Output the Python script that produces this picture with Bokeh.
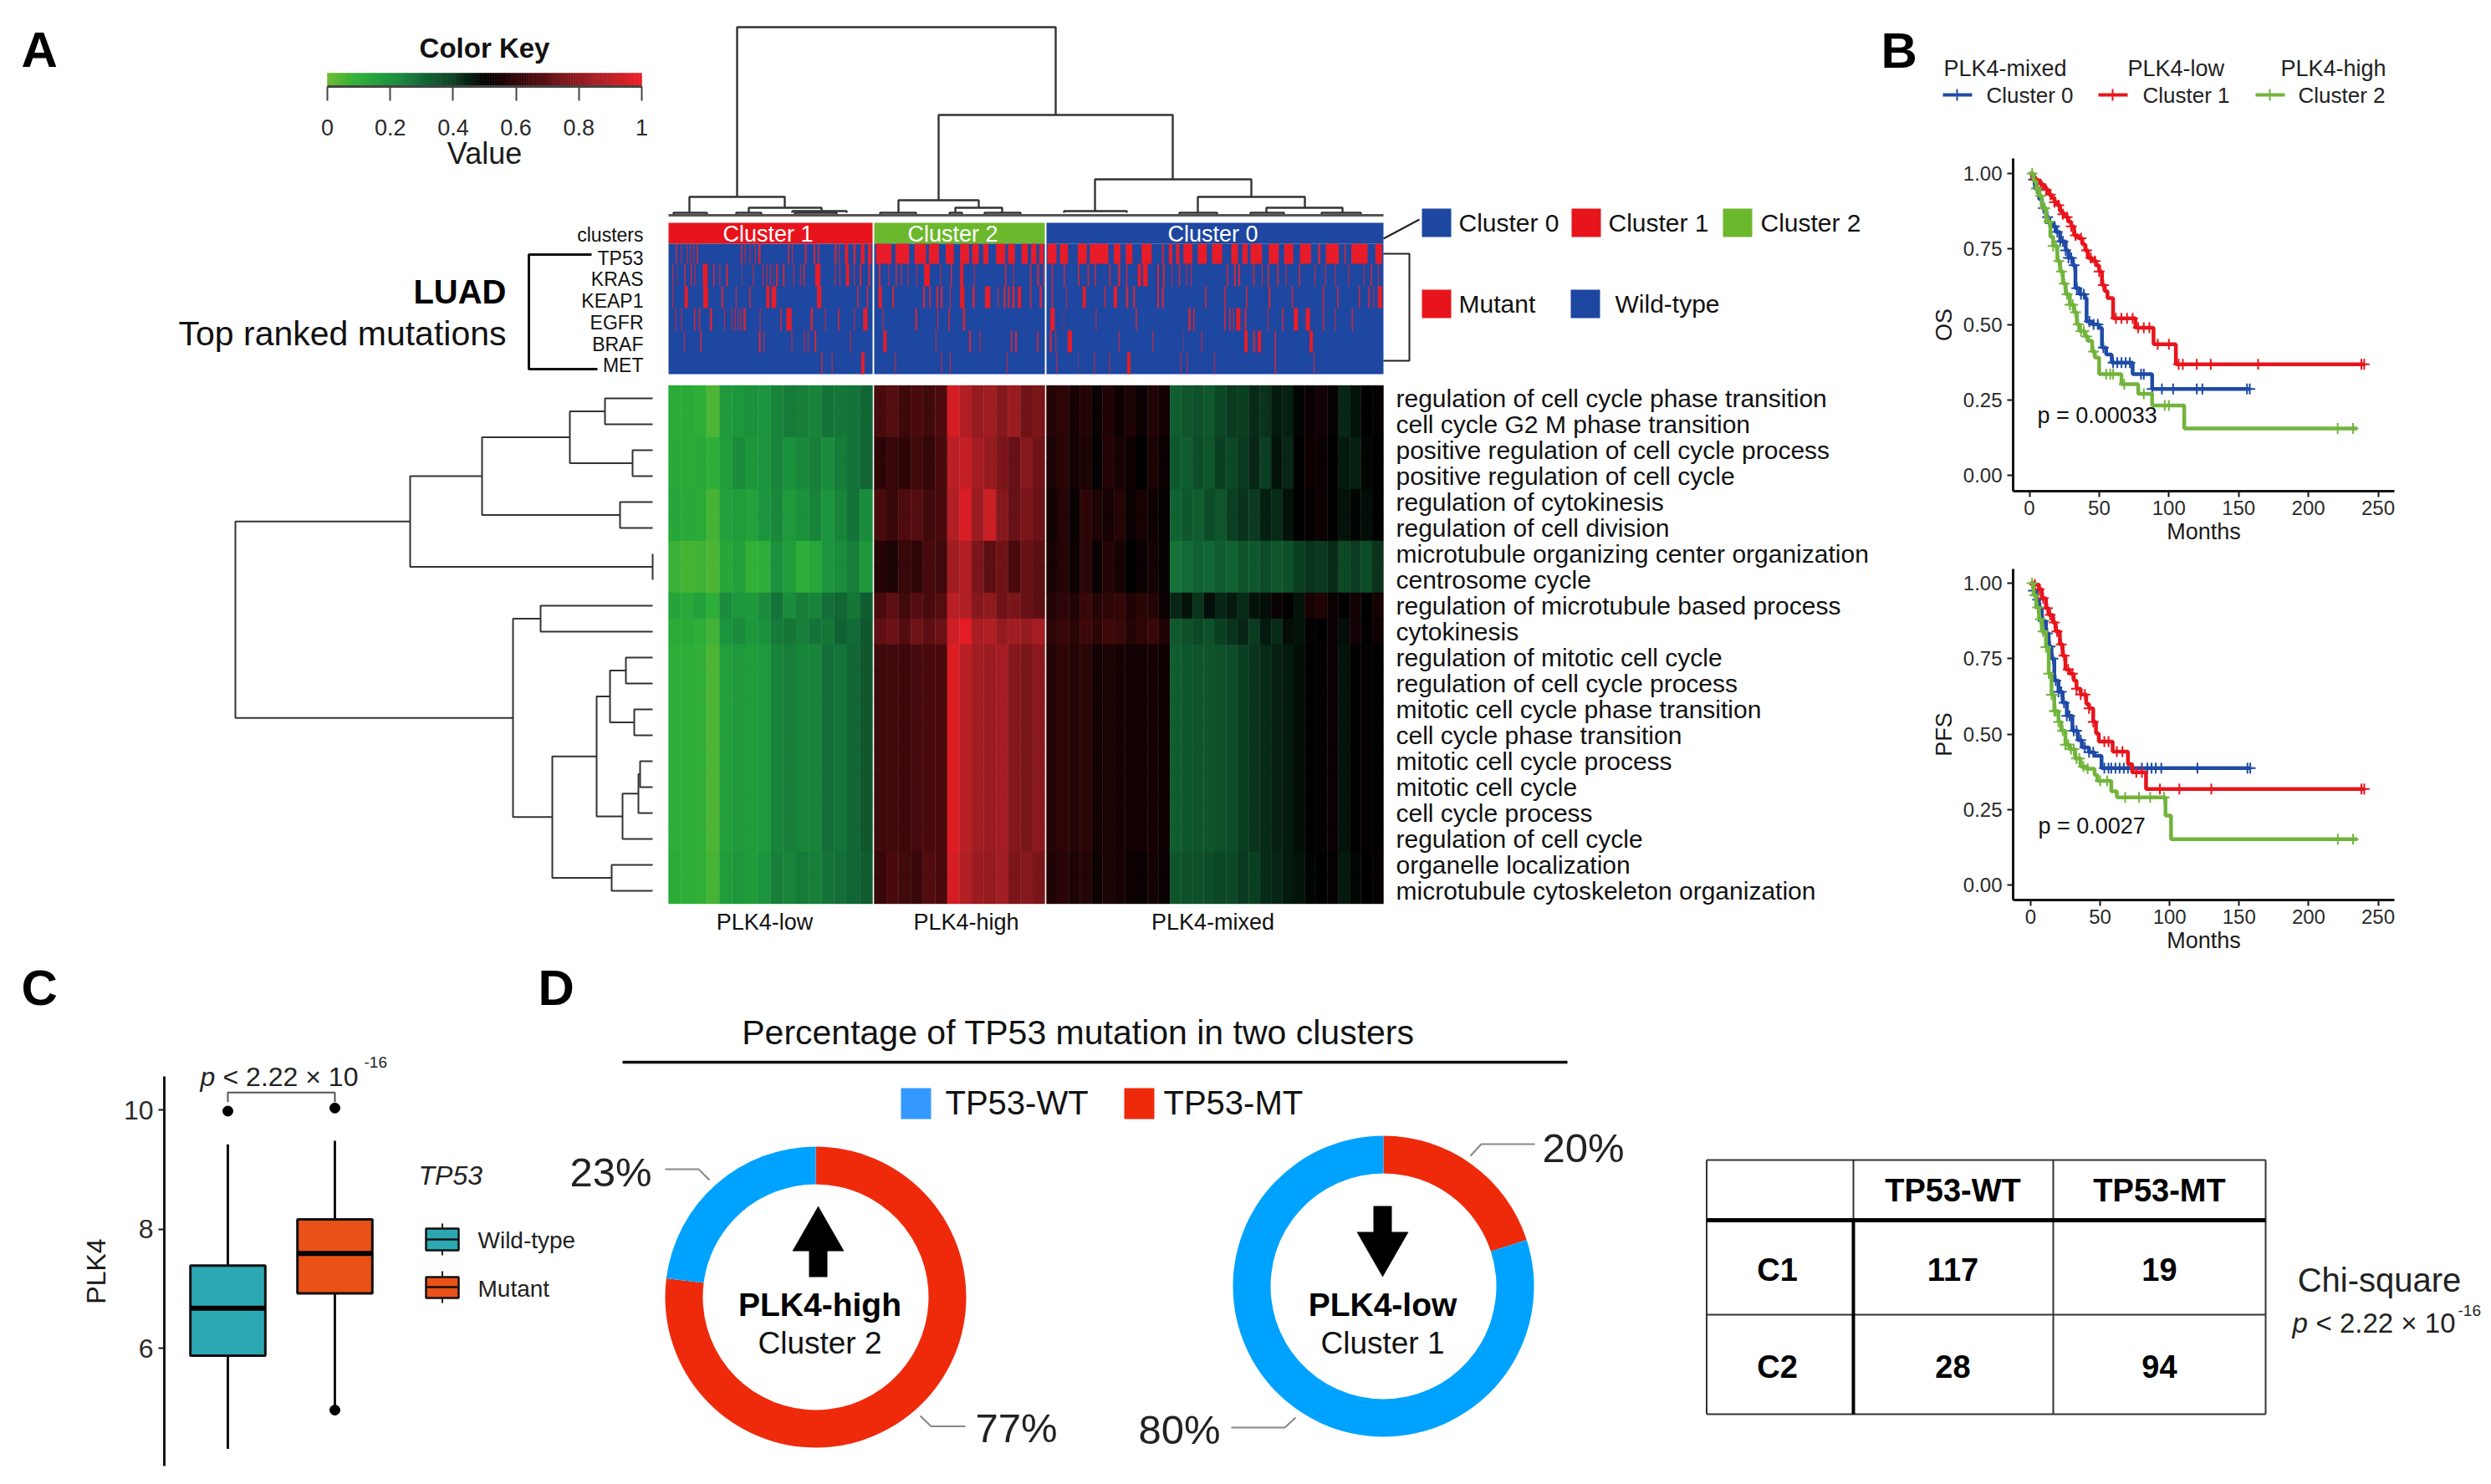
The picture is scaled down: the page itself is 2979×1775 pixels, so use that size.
import numpy as np
from bokeh.plotting import figure
from bokeh.models import Range1d, LinearAxis, FixedTicker, LinearColorMapper, ColumnDataSource
from bokeh.core.properties import value
from bokeh.transform import transform
from bokeh.embed import file_html
from bokeh.resources import INLINE

# ---------------- DATA ----------------
cluster_names = ["Cluster 1", "Cluster 2", "Cluster 0"]
cluster_colors = ["#E8141C", "#6CB82C", "#1D47A0"]
mutation_genes = ["TP53", "KRAS", "KEAP1", "EGFR", "BRAF", "MET"]
pathways = ["regulation of cell cycle phase transition", "cell cycle G2 M phase transition",
            "positive regulation of cell cycle process", "positive regulation of cell cycle",
            "regulation of cytokinesis", "regulation of cell division",
            "microtubule organizing center organization", "centrosome cycle",
            "regulation of microtubule based process", "cytokinesis",
            "regulation of mitotic cell cycle", "regulation of cell cycle process",
            "mitotic cell cycle phase transition", "cell cycle phase transition",
            "mitotic cell cycle process", "mitotic cell cycle", "cell cycle process",
            "regulation of cell cycle", "organelle localization", "microtubule cytoskeleton organization"]
row_group = [0, 0, 1, 1, 2, 2, 3, 3, 4, 5, 6, 6, 6, 6, 6, 6, 6, 6, 7, 7]

heat_c1 = [
    [.11,.11,.10,.05,.18,.19,.21,.20,.24,.26,.25,.24,.28,.27,.28,.31],
    [.12,.11,.12,.10,.17,.22,.19,.20,.24,.21,.23,.25,.22,.26,.28,.31],
    [.13,.12,.11,.06,.16,.17,.15,.20,.23,.18,.21,.24,.20,.24,.28,.22],
    [.08,.06,.07,.05,.13,.16,.09,.10,.21,.17,.10,.13,.20,.22,.25,.19],
    [.14,.12,.15,.10,.22,.19,.18,.22,.28,.22,.25,.24,.29,.31,.27,.33],
    [.11,.11,.10,.07,.20,.22,.19,.21,.26,.27,.25,.28,.27,.32,.30,.34],
    [.10,.10,.09,.05,.16,.18,.17,.18,.24,.25,.24,.24,.29,.28,.31,.34],
    [.11,.10,.09,.06,.17,.19,.17,.20,.25,.24,.26,.25,.28,.29,.31,.33]]
heat_c2 = [
    [.66,.68,.63,.66,.64,.67,.95,.88,.82,.84,.78,.83,.74,.76],
    [.60,.62,.60,.64,.61,.66,.90,.92,.85,.82,.76,.72,.78,.74],
    [.66,.62,.67,.68,.64,.66,.88,.96,.83,.93,.78,.72,.76,.73],
    [.58,.56,.62,.60,.66,.64,.84,.88,.76,.70,.74,.66,.72,.70],
    [.66,.70,.64,.68,.66,.68,.90,.88,.78,.80,.74,.76,.72,.70],
    [.71,.73,.68,.74,.70,.73,.94,.98,.86,.88,.81,.84,.82,.85],
    [.64,.64,.63,.65,.66,.66,.97,.90,.84,.83,.85,.78,.76,.79],
    [.62,.66,.64,.62,.68,.66,.95,.88,.83,.82,.84,.76,.78,.76]]
heat_c0 = [
    [.58,.60,.55,.58,.52,.57,.53,.56,.52,.57,.54,.33,.35,.36,.34,.38,.41,.40,.43,.42,.46,.45,.49,.52,.54,.51,.44,.47,.50,.51],
    [.56,.59,.54,.56,.51,.58,.55,.53,.50,.56,.52,.34,.33,.37,.35,.40,.38,.41,.44,.40,.47,.44,.50,.53,.52,.50,.46,.45,.49,.50],
    [.54,.58,.52,.60,.56,.55,.58,.52,.55,.53,.51,.32,.34,.33,.37,.35,.40,.42,.41,.45,.43,.47,.50,.51,.53,.50,.47,.49,.48,.50],
    [.55,.58,.53,.60,.52,.58,.55,.50,.52,.54,.51,.28,.30,.32,.31,.33,.32,.35,.34,.37,.35,.36,.40,.42,.41,.43,.38,.40,.37,.42],
    [.58,.60,.57,.62,.58,.60,.61,.57,.59,.58,.52,.44,.47,.42,.48,.44,.46,.43,.47,.48,.52,.50,.47,.55,.57,.52,.50,.54,.50,.55],
    [.60,.62,.59,.63,.60,.63,.62,.58,.60,.62,.57,.34,.36,.38,.36,.40,.42,.44,.41,.46,.43,.48,.47,.51,.50,.52,.48,.54,.50,.53],
    [.58,.60,.58,.59,.54,.56,.55,.54,.54,.55,.53,.33,.34,.35,.35,.36,.37,.40,.42,.43,.45,.46,.48,.50,.51,.52,.47,.50,.51,.50],
    [.57,.59,.56,.58,.53,.56,.55,.53,.52,.54,.52,.35,.36,.36,.37,.38,.38,.41,.40,.43,.44,.46,.47,.49,.50,.51,.46,.49,.50,.51]]

# mutated samples, as (first, last) sample positions along the annotation strip
mut_tp53 = [(47,52),(58,62),(70,74),(77,81),(84,88),(91,96),(183,188),(191,195),(201,205),(212,216),(219,226),(281,286),(289,293),(316,322),(334,340),(343,348),(378,384),(387,391),(400,408),(417,424),(433,442),(448,456),
            (465,498),(505,535),(545,570),(575,597),(610,628),(640,660),(665,680),(688,700),(715,735),(740,755),(768,782),(788,800),(805,815),
            (822,842),(848,866),(885,905),(910,950),(960,975),(985,1000),(1018,1040),(1060,1066),(1075,1083),(1090,1098),(1105,1125),(1135,1155),(1165,1187),(1205,1220),(1228,1240),(1245,1270),(1283,1305),(1315,1335),(1348,1372),(1385,1392),(1402,1430),(1440,1445),(1455,1490),(1505,1520)]
mut_kras = [(40,44),(50,53),(65,70),(78,83),(86,90),(104,115),(125,130),(138,142),(152,158),(185,188),(208,212),(228,232),(236,240),(243,247),(249,252),(256,262),(270,276),(292,296),(306,310),(313,318),(338,350),(378,382),(388,392),(402,410),(418,422),(430,436),(448,454),
            (470,476),(490,494),(505,510),(516,520),(530,534),(548,552),(565,578),(598,602),(620,625),(640,648),(668,672),(733,738),(750,754),(785,790),(800,806),(812,816),
            (830,835),(855,860),(885,890),(905,910),(920,925),(950,955),(968,975),(985,990),(1010,1018),(1021,1032),(1050,1056),(1062,1068),(1080,1084),(1095,1100),(1110,1114),(1120,1124),(1195,1200),(1210,1216),(1219,1225),(1250,1255),(1268,1272),(1280,1285),(1300,1305),(1318,1322),(1345,1350),(1378,1382),(1400,1404),(1420,1424),(1448,1452),(1480,1484),(1495,1500),(1510,1514)]
mut_keap1 = [(40,44),(66,74),(105,116),(142,148),(172,176),(200,205),(236,244),(247,258),(342,352),(425,430),(445,450),
             (470,478),(498,504),(562,568),(575,580),(590,596),(599,605),(618,622),(640,650),(665,672),(692,704),(718,722),(730,736),(739,745),(748,755),(760,768),(785,790),(805,812),
             (830,835),(860,864),(895,903),(940,945),(960,968),(985,992),(1000,1006),(1050,1056),(1060,1066),(1150,1155),(1190,1195),(1235,1240),(1282,1288),(1330,1335),(1395,1400),(1425,1430),(1470,1475),(1490,1495),(1500,1504),(1510,1520)]
mut_egfr = [(46,50),(58,62),(85,90),(95,100),(118,125),(148,152),(163,167),(170,174),(176,180),(182,186),(188,195),(222,226),(265,270),(278,290),(328,335),(358,362),(385,390),(418,422),(438,448),
            (478,482),(546,552),(592,596),(615,620),(645,652),
            (828,838),(855,858),(922,926),(1005,1010),(1115,1122),(1125,1130),(1190,1195),(1200,1205),(1208,1212),(1215,1225),(1232,1238),(1280,1284),(1310,1315),(1335,1345),(1360,1370),(1395,1400),(1420,1424),(1455,1460)]
mut_braf = [(64,68),(98,103),(220,226),(230,234),(288,292),(314,318),(322,326),(336,342),(410,414),
            (480,488),(588,592),(658,664),(680,684),(745,750),(754,760),(800,805),
            (826,832),(838,842),(864,874),(970,974),(1040,1044),(1105,1108),(1142,1146),(1232,1240),(1250,1256),(1260,1268),(1295,1300),(1368,1376)]
mut_met = [(350,355),(372,376),(434,442),(504,508),(600,604),(618,622),(736,740),
           (840,844),(885,888),(918,922),(950,954),(988,996),(1098,1102),(1112,1116),(1168,1172),(1295,1300),(1376,1380)]

# row dendrogram: (child a, child b, merge depth); leaves are rows 0-19, new nodes 20+
row_tree = [(0,1,723),(2,3,756),(20,21,681),(4,5,741),(22,23,576),(6,7,780),(24,25,490),
            (8,9,646),(10,11,748),(12,13,758),(28,29,729),
            (14,15,765),(31,16,763),(32,17,744),(30,33,713),(18,19,731),(34,35,660),(27,36,613),(26,37,281)]
# column dendrogram: (left, right, height, left floor, right floor)
col_tree = [(881,1262,32,235,137),(1122,1402,137,239,214),(1309,1496,214,252,235),(1432,1560,235,254,248),
            (1514,1605,248,254,254),(824,938,235,254,248),(895,982,248,254,252),(947,1012,252,254,254),
            (1074,1170,239,254,248),(1142,1198,248,254,254),(1272,1347,252,254,254),
            (805,845,254,256,256),(880,910,254,256,256),(950,1000,254,256,256),(1052,1095,254,256,256),(1135,1150,254,256,256),
            (1177,1220,254,256,256),(1410,1455,254,256,256),(1495,1535,254,256,256),(1580,1627,254,256,256)]

os_red_t = [0,2,4,6,8,10,12,14,16,18,20,22,24,26,28,30,32,35,38,40,42,45,48,50,52,54,56,60,76,89,105,240]
os_red_s = [1,.99,.98,.975,.965,.955,.945,.93,.92,.905,.895,.875,.865,.855,.84,.825,.795,.785,.765,.745,.72,.71,.695,.675,.63,.61,.587,.52,.489,.434,.368,.368]
os_blue_t = [0,2,4,7,9,12,14,16,19,22,26,28,31,33,36,40,41,45,50,52,55,59,74,88,158]
os_blue_s = [1,.98,.95,.915,.885,.855,.835,.825,.806,.775,.745,.72,.696,.62,.60,.587,.51,.50,.488,.423,.40,.373,.335,.286,.286]
os_green_t = [0,3,5,7,9,12,15,17,20,22,24,26,29,32,34,36,40,42,45,47,50,66,78,88,111,235]
os_green_s = [1,.975,.95,.926,.885,.84,.79,.76,.71,.675,.635,.60,.565,.54,.50,.478,.46,.445,.41,.39,.335,.302,.27,.231,.155,.155]
os_red_c = [4,8,12,15,18,21,24,27,30,33,37,41,44,47,50,53,62,66,70,74,78,82,86,92,100,107,110,120,130,164,238,240]
os_blue_c = [3,6,10,13,15,18,20,22,24,26,28,30,32,34,37,39,43,46,49,53,60,63,66,69,72,80,82,88,95,103,120,124,156,158]
os_green_c = [2,5,8,11,14,17,19,21,23,25,27,29,31,33,35,37,39,41,46,55,58,60,68,82,97,100,221,232]

pfs_red_t = [0,3,6,8,11,13,16,18,21,23,25,28,31,33,36,40,42,45,47,49,59,70,73,83,240]
pfs_red_s = [1,.995,.98,.95,.917,.895,.87,.84,.797,.76,.714,.70,.677,.65,.631,.60,.585,.54,.502,.475,.442,.40,.373,.318,.318]
pfs_blue_t = [0,2,4,6,8,11,13,15,17,20,23,26,30,34,37,42,46,51,158]
pfs_blue_s = [1,.975,.945,.917,.875,.834,.79,.75,.677,.64,.604,.56,.511,.48,.456,.44,.428,.387,.387]
pfs_green_t = [0,2,4,6,8,11,13,15,17,20,22,25,28,32,36,40,46,48,58,62,97,98,101,235]
pfs_green_s = [1,.96,.92,.88,.84,.788,.70,.63,.576,.54,.511,.465,.45,.419,.392,.385,.364,.345,.31,.29,.23,.23,.152,.152]
pfs_red_c = [3,6,9,12,14,17,19,22,24,27,30,33,36,39,42,45,53,56,62,66,76,80,93,107,130,238,240]
pfs_blue_c = [2,5,7,9,12,14,16,18,20,22,24,26,28,31,33,36,39,42,45,53,56,58,61,64,67,70,73,80,84,87,90,94,120,156,158]
pfs_green_c = [1,3,5,7,9,11,13,15,17,18,20,23,25,27,29,31,33,35,38,41,50,55,68,78,86,96,221,232]

box_median = [6.67, 7.59]
box_q1 = [5.875, 6.92]
box_q3 = [7.385, 8.16]
box_low = [4.31, 4.96]
box_high = [9.42, 9.48]
box_out_x = [1, 2, 2]
box_out_y = [9.98, 10.03, 4.96]
box_colors = ["#2CA8B3", "#EA5118"]

donut_high = [77, 23]
donut_low = [20, 80]
table_cols = ["TP53-WT", "TP53-MT"]
table_rows = ["C1", "C2"]
table_values = [[117, 19], [28, 94]]

# ---------------- FIGURE ----------------
F = "Liberation Sans"
L, R, TOP, BOT = 0, 2971, 0, 1767
p = figure(width=R - L, height=BOT - TOP, x_range=Range1d(L, R), y_range=Range1d(BOT, TOP),
           output_backend="svg", toolbar_location=None, x_axis_location=None, y_axis_location=None,
           min_border=0, outline_line_color=None)
p.grid.visible = False
p.background_fill_color = "white"

def scale(a0, v0, a1, v1):
    return lambda a: v0 + (a - a0) * (v1 - v0) / (a1 - a0)

def add_x(name, a0, v0, a1, v1):
    f = scale(a0, v0, a1, v1)
    p.extra_x_ranges[name] = Range1d(f(L), f(R))
    return f

def add_y(name, a0, v0, a1, v1):
    f = scale(a0, v0, a1, v1)
    p.extra_y_ranges[name] = Range1d(f(BOT), f(TOP))
    return f

def T(x, y, s, size, style="normal", align="left", color="#111111", angle=0):
    p.text(x=[x], y=[y], text=[s], text_font=value(F), text_font_size=f"{size}px", text_font_style=style,
           text_align=align, text_baseline="middle", text_color=color, angle=angle)

def style_axis(ax, tick=24, lab=27, standoff=6):
    ax.axis_line_width = 3
    ax.axis_line_color = "#151515"
    ax.major_tick_line_color = "#151515"
    ax.major_tick_line_width = 2
    ax.major_tick_in = 0
    ax.major_tick_out = 7
    ax.minor_tick_line_color = None
    ax.major_label_text_font = F
    ax.major_label_text_font_size = f"{tick}px"
    ax.major_label_text_color = "#2a2a2a"
    ax.major_label_standoff = standoff
    ax.axis_label_text_font = F
    ax.axis_label_text_font_size = f"{lab}px"
    ax.axis_label_text_font_style = "normal"
    ax.axis_label_text_color = "#1a1a1a"

# panel letters
for s, x, y in [("A", 25, 59), ("B", 2249, 60), ("C", 25, 1181), ("D", 643, 1181)]:
    T(x, y, s, 60, "bold", color="#000000")

# ---- colour scale
stops = [(0, (108, 187, 48)), (.1, (44, 174, 56)), (.2, (28, 148, 61)), (.3, (18, 106, 54)), (.4, (11, 63, 34)),
         (.5, (0, 0, 0)), (.6, (46, 5, 7)), (.7, (91, 14, 18)), (.8, (142, 26, 30)), (.9, (184, 32, 37)), (1, (237, 28, 36))]
lv = np.linspace(0, 1, 256)
pal = ["#%02x%02x%02x" % tuple(int(round(np.interp(v, [s[0] for s in stops], [s[1][i] for s in stops]))) for i in range(3)) for v in lv]
mapper = LinearColorMapper(palette=pal, low=0, high=1)

# ---- colour key
key_f = add_x("key", 391, 0, 767, 1)
ke = np.linspace(0, 1, 129)
p.quad(left="l", right="r", top="t", bottom="b", fill_color=transform("v", mapper), line_color=transform("v", mapper), line_width=.5,
       source=ColumnDataSource(dict(l=ke[:-1], r=ke[1:], t=[87] * 128, b=[103] * 128, v=(ke[:-1] + ke[1:]) / 2)), x_range_name="key")
key_ax = LinearAxis(x_range_name="key", fixed_location=103, bounds=(0, 1), ticker=FixedTicker(ticks=[0, .2, .4, .6, .8, 1]),
                    major_label_overrides={0: "0", 1: "1"}, axis_label="Value")
style_axis(key_ax, 27, 36, 22)
key_ax.major_tick_out = 17
key_ax.axis_line_color = "#444444"
key_ax.major_tick_line_color = "#444444"
key_ax.axis_label_standoff = -2
p.add_layout(key_ax, "below")
T(579, 57, "Color Key", 33, "bold", "center")

# ---- LUAD labels and bracket
T(605, 348, "LUAD", 40, "bold", "right", "#000000")
T(605, 398, "Top ranked mutations", 41, "normal", "right")
T(769, 280, "clusters", 23, "normal", "right")
gene_y = [308, 333, 359, 385, 411, 436]
for g, y in zip(mutation_genes, gene_y):
    T(769, y, g, 23, "normal", "right")
p.line([707, 632, 632, 714], [304, 304, 441, 441], line_color="#111111", line_width=3)

# ---- annotation strips
bounds = [(799, 1043), (1045, 1249), (1251, 1654)]
for (a, b), c, n, cx in zip(bounds, cluster_colors, cluster_names, [918, 1139, 1450]):
    p.quad(left=[a], right=[b], top=[266], bottom=[291], fill_color=c, line_color=None)
    p.quad(left=[a], right=[b], top=[291], bottom=[447], fill_color="#1D47A0", line_color=None)
    T(cx, 279, n, 27, "normal", "center", "#ffffff")
strip_edges = [291, 315, 342, 368, 395, 421, 447]
mut_lists = [mut_tp53, mut_kras, mut_keap1, mut_egfr, mut_braf, mut_met]
def sample_x(s):
    return 780 + np.asarray(s, dtype=float) / 1.742
for k, m in enumerate(mut_lists):
    arr = np.array(m, dtype=float)
    wide = (arr[:, 1] - arr[:, 0]) >= 8
    cols = ["#E81C28" if w else "#C42A42" for w in wide]
    trim = np.where(wide, 0.5, 1.0)
    p.quad(left=sample_x(arr[:, 0] + trim), right=sample_x(arr[:, 1] - trim), top=[strip_edges[k]] * len(m), bottom=[strip_edges[k + 1]] * len(m),
           fill_color=cols, line_color=None)

# ---- heatmap
row_top, row_h = 460.5, 31.0
cells = dict(l=[], r=[], t=[], b=[], v=[])
for (a, b), heat in zip(bounds, [heat_c1, heat_c2, heat_c0]):
    n = len(heat[0])
    edges = np.linspace(a, b, n + 1)
    for r, g in enumerate(row_group):
        for c in range(n):
            cells["l"].append(edges[c]); cells["r"].append(edges[c + 1])
            cells["t"].append(row_top + r * row_h); cells["b"].append(row_top + (r + 1) * row_h)
            cells["v"].append(heat[g][c])
p.quad(left="l", right="r", top="t", bottom="b", fill_color=transform("v", mapper), line_color=transform("v", mapper), line_width=.4,
       source=ColumnDataSource(cells))
for i, s in enumerate(pathways):
    T(1669, row_top + (i + .5) * row_h, s, 30)
for s, x in [("PLK4-low", 914), ("PLK4-high", 1155), ("PLK4-mixed", 1450)]:
    T(x, 1102, s, 27, "normal", "center")

# ---- dendrograms
pos = {i: (780.0, row_top + (i + .5) * row_h) for i in range(20)}
xs, ys = [], []
for k, (a, b, d) in enumerate(row_tree):
    xa, ya = pos[a]; xb, yb = pos[b]
    xs.append([xa, d, d, xb]); ys.append([ya, ya, yb, yb])
    pos[20 + k] = (d, (ya + yb) / 2)
p.multi_line(xs, ys, line_color="#333333", line_width=2)
xs = [[a, a, b, b] for a, b, h, fa, fb in col_tree]
ys = [[fa, h, h, fb] for a, b, h, fa, fb in col_tree]
p.multi_line(xs, ys, line_color="#333333", line_width=2.4)
p.line([799, 1654], [257, 257], line_color="#555555", line_width=3)

# ---- annotation legends
for x, c, s, tx in [(1700, "#1D47A0", "Cluster 0", 1744), (1879, "#E8141C", "Cluster 1", 1923), (2060, "#6CB82C", "Cluster 2", 2105)]:
    p.quad(left=[x], right=[x + 35], top=[249], bottom=[283], fill_color=c, line_color=None)
    T(tx, 266, s, 30)
for x, c, s, tx in [(1700, "#E8141C", "Mutant", 1744), (1878, "#1D47A0", "Wild-type", 1931)]:
    p.quad(left=[x], right=[x + 35], top=[346], bottom=[380], fill_color=c, line_color=None)
    T(tx, 363, s, 30)
p.line([1654, 1697], [285, 262], line_color="#222222", line_width=2)
p.line([1654, 1685, 1685, 1654], [303, 303, 431, 431], line_color="#222222", line_width=2)

# ---- KM curves
KM = {"blue": "#1F4BA5", "red": "#E8141C", "green": "#72B43C"}
def km(name, x0, y1, y0, left, bottom, top, curves, ylabel, months_pad):
    fx = add_x(name + "x", x0, 0, 2843.5, 250)
    fy = add_y(name + "y", y1, 1, y0, 0)
    for col, t, s, c in curves:
        t = np.array(t, float); s = np.array(s, float); c = np.array(c, float)
        p.step(t, s, mode="after", line_color=KM[col], line_width=4.5, x_range_name=name + "x", y_range_name=name + "y")
        idx = np.searchsorted(t, c, side="right") - 1
        p.scatter(c, s[idx], marker="cross", size=13, line_color=KM[col], line_width=2, fill_color=None,
                  x_range_name=name + "x", y_range_name=name + "y")
    ya = LinearAxis(x_range_name=name + "x", y_range_name=name + "y", fixed_location=fx(left), bounds=(fy(bottom), fy(top)),
                    ticker=FixedTicker(ticks=[0, .25, .5, .75, 1]), axis_label=ylabel,
                    major_label_overrides={0: "0.00", .25: "0.25", .5: "0.50", .75: "0.75", 1: "1.00"})
    style_axis(ya)
    ya.axis_label_standoff = 5
    p.add_layout(ya, "left")
    xa = LinearAxis(x_range_name=name + "x", y_range_name=name + "y", fixed_location=fy(bottom), bounds=(fx(left), fx(2863)),
                    ticker=FixedTicker(ticks=[0, 50, 100, 150, 200, 250]), axis_label="Months")
    style_axis(xa, standoff=4)
    xa.axis_label_standoff = months_pad
    p.add_layout(xa, "below")

km("os", 2426.5, 207, 568, 2407, 587, 189,
   [("blue", os_blue_t, os_blue_s, os_blue_c), ("red", os_red_t, os_red_s, os_red_c), ("green", os_green_t, os_green_s, os_green_c)], "OS", 2)
km("pf", 2428, 697, 1058, 2407, 1076, 680,
   [("blue", pfs_blue_t, pfs_blue_s, pfs_blue_c), ("red", pfs_red_t, pfs_red_s, pfs_red_c), ("green", pfs_green_t, pfs_green_s, pfs_green_c)], "PFS", 2)
T(2436, 496, "p = 0.00033", 27)
T(2437, 987, "p = 0.0027", 27)
for x, s in [(2324, "PLK4-mixed"), (2544, "PLK4-low"), (2727, "PLK4-high")]:
    T(x, 81, s, 27, color="#222222")
for x0, col, s, tx in [(2323, "blue", "Cluster 0", 2375), (2509, "red", "Cluster 1", 2562), (2697, "green", "Cluster 2", 2748)]:
    p.line([x0, x0 + 35], [113, 113], line_color=KM[col], line_width=4)
    p.scatter([x0 + 17], [113], marker="cross", size=14, line_color=KM[col], line_width=2, fill_color=None)
    T(tx, 113, s, 26, color="#222222")

# ---- box plot
bx = add_x("bx", 272, 1, 400, 2)
by = add_y("by", 1327, 10, 1612, 6)
kw = dict(x_range_name="bx", y_range_name="by")
cats = [1, 2]
p.segment(cats, box_low, cats, box_high, line_color="#111111", line_width=3, **kw)
p.vbar(cats, width=.7, bottom=box_q1, top=box_q3, fill_color=box_colors, line_color="#111111", line_width=3, **kw)
p.segment([c - .35 for c in cats], box_median, [c + .35 for c in cats], box_median, line_color="#000000", line_width=6, **kw)
p.scatter(box_out_x, box_out_y, marker="circle", size=12, fill_color="#000000", line_color="#000000", **kw)
p.line([1, 1, 2, 2], [10.13, 10.29, 10.29, 10.13], line_color="#555555", line_width=2, **kw)
bya = LinearAxis(x_range_name="bx", y_range_name="by", fixed_location=bx(196), bounds=(by(1753), by(1287)),
                 ticker=FixedTicker(ticks=[6, 8, 10]), axis_label="PLK4")
style_axis(bya, 32, 32, 6)
bya.axis_label_standoff = 12
p.add_layout(bya, "left")
T(239, 1287, "p", 32, "italic", color="#222222")
T(266, 1287, "< 2.22 × 10", 32, color="#222222")
T(435, 1270, "-16", 19, color="#222222")
T(500, 1405, "TP53", 32, "italic", color="#222222")
for (t, b, wt, wb, m), col, s in zip([(1469, 1495, 1463, 1501, 1482), (1527, 1552, 1520, 1558, 1539)], box_colors, ["Wild-type", "Mutant"]):
    p.line([528.5, 528.5], [wt, wb], line_color="#222222", line_width=2)
    p.quad(left=[509], right=[548], top=[t], bottom=[b], fill_color=col, line_color="#111111", line_width=2.5)
    p.line([509, 548], [m, m], line_color="#111111", line_width=2.5)
    T(571, (t + b) / 2 + 1, s, 28, color="#222222")

# ---- donuts
p.extra_y_ranges["up"] = Range1d(-BOT, -TOP)
donut_cols = [["#EE2A0B", "#00A2FF"], ["#EE2A0B", "#00A2FF"]]
for (cx, cy), vals, cols in zip([(975, 1551), (1654, 1538)], [donut_high, donut_low], donut_cols):
    a = np.pi / 2
    for v, c in zip(vals, cols):
        b = a - 2 * np.pi * v / sum(vals)
        p.annular_wedge([cx], [-cy], inner_radius=135, outer_radius=180, start_angle=a, end_angle=b, direction="clock",
                        fill_color=c, line_color=None, y_range_name="up")
        a = b
T(1289, 1234, "Percentage of TP53 mutation in two clusters", 41, align="center")
p.line([744, 1874], [1270, 1270], line_color="#111111", line_width=3.5)
p.quad(left=[1077], right=[1113], top=[1301], bottom=[1338], fill_color="#3399FF", line_color=None)
p.quad(left=[1344], right=[1380], top=[1301], bottom=[1338], fill_color="#EE2A0B", line_color=None)
T(1130, 1318, "TP53-WT", 40)
T(1391, 1318, "TP53-MT", 40)
p.patch([978, 1009, 989, 989, 967, 967, 947], [1442, 1496, 1496, 1527, 1527, 1496, 1496], fill_color="#000000", line_color=None)
p.patch([1642, 1664, 1664, 1684, 1653, 1622, 1642], [1442, 1442, 1473, 1473, 1527, 1473, 1473], fill_color="#000000", line_color=None)
T(980, 1560, "PLK4-high", 39, "bold", "center", "#000000")
T(980, 1606, "Cluster 2", 37, "normal", "center")
T(1653, 1560, "PLK4-low", 39, "bold", "center", "#000000")
T(1653, 1606, "Cluster 1", 37, "normal", "center")
for s, x, y in [("23%", 681, 1401), ("77%", 1166, 1707), ("20%", 1844, 1372), ("80%", 1361, 1709)]:
    T(x, y, s, 49, color="#222222")
for xx, yy in [([795, 835, 848], [1398, 1398, 1411]), ([1100, 1113, 1154], [1693, 1705.5, 1705.5]),
               ([1758, 1771, 1835], [1382, 1368, 1368]), ([1472, 1536, 1549], [1707, 1707, 1695])]:
    p.line(xx, yy, line_color="#888888", line_width=2)

# ---- table
tx0, tx1, tx2, tx3 = 2040.5, 2216, 2455, 2709
ty0, ty1, ty2, ty3 = 1387, 1459, 1572, 1691
p.multi_line([[tx0, tx3], [tx0, tx3], [tx0, tx0], [tx3, tx3], [tx2, tx2], [tx1, tx1]],
             [[ty0, ty0], [ty3, ty3], [ty0, ty3], [ty0, ty3], [ty0, ty3], [ty0, ty1]], line_color="#333333", line_width=2)
p.line([tx0, tx3], [ty2, ty2], line_color="#333333", line_width=2)
p.line([tx0, tx3], [ty1, ty1], line_color="#000000", line_width=5)
p.line([tx1, tx1], [ty1, ty3], line_color="#000000", line_width=4)
cx = [2335, 2582]
ry = [1518, 1634]
for x, s in zip(cx, table_cols):
    T(x, 1423, s, 38, "bold", "center", "#000000")
for y, s, rowv in zip(ry, table_rows, table_values):
    T(2125, y, s, 38, "bold", "center", "#000000")
    for x, v in zip(cx, rowv):
        T(x, y, str(v), 38, "bold", "center", "#000000")
T(2845, 1530, "Chi-square", 40, align="center", color="#222222")
T(2741, 1582, "p", 33, "italic", color="#222222")
T(2769, 1582, "< 2.22 × 10", 33, color="#222222")
T(2939, 1567, "-16", 19, color="#222222")

open("out.html", "w").write(file_html(p, INLINE))
